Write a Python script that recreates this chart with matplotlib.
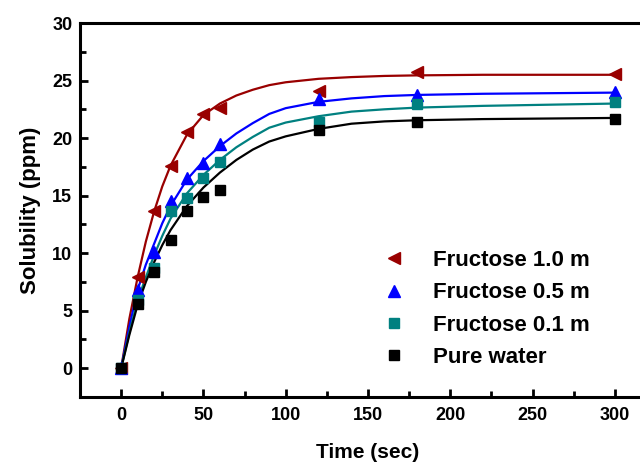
import matplotlib
matplotlib.use("Agg")
import matplotlib.pyplot as plt
from matplotlib.ticker import MultipleLocator

# measured points
time = [0, 10, 20, 30, 40, 50, 60, 120, 180, 300]
fru_10 = [0, 7.9, 13.7, 17.6, 20.5, 22.1, 22.6, 24.1, 25.7, 25.6]
fru_05 = [0, 6.8, 10.1, 14.5, 16.5, 17.8, 19.5, 23.4, 23.7, 24.0]
fru_01 = [0, 5.9, 8.7, 13.7, 14.8, 16.5, 17.9, 21.4, 23.0, 23.1]
water = [0, 5.6, 8.4, 11.1, 13.7, 14.9, 15.5, 20.7, 21.4, 21.7]

# fitted curves
fit_t = [0, 5, 10, 15, 20, 25, 30, 40, 50, 60, 70, 80, 90, 100, 120, 140, 160, 180, 220, 260, 300]
fit_10 = [0, 4.3, 7.9, 11.0, 13.6, 15.8, 17.6, 20.3, 22.0, 23.0, 23.7, 24.2, 24.6, 24.85, 25.15, 25.3, 25.4, 25.45, 25.5, 25.5, 25.5]
fit_05 = [0, 3.6, 6.8, 9.0, 10.8, 12.6, 14.1, 16.4, 18.0, 19.3, 20.4, 21.3, 22.1, 22.6, 23.15, 23.45, 23.65, 23.75, 23.85, 23.9, 23.95]
fit_01 = [0, 3.1, 5.9, 7.9, 9.8, 11.5, 13.0, 15.2, 16.8, 18.1, 19.2, 20.1, 20.9, 21.35, 21.9, 22.3, 22.5, 22.65, 22.8, 22.9, 23.0]
fit_w = [0, 2.9, 5.5, 7.5, 9.2, 10.7, 12.0, 14.1, 15.7, 17.0, 18.1, 19.0, 19.7, 20.15, 20.8, 21.25, 21.45, 21.55, 21.65, 21.7, 21.75]

labels = ["Fructose 1.0 m", "Fructose 0.5 m", "Fructose 0.1 m", "Pure water"]
colors = ["#990000", "#0000ff", "#008080", "#000000"]
markers = ["<", "^", "s", "s"]
msizes = [9, 9, 6.5, 6.5]

font = ["Liberation Sans", "DejaVu Sans"]

fig = plt.figure(figsize=(6.4, 4.66), dpi=100)
ax = fig.add_axes([80 / 640, 69 / 466, 576 / 640, 374 / 466])

for ys, fy, c, m, ms, lab in zip([fru_10, fru_05, fru_01, water],
                                 [fit_10, fit_05, fit_01, fit_w],
                                 colors, markers, msizes, labels):
    ax.plot(fit_t, fy, color=c, lw=1.6, zorder=2)
    ax.plot(time, ys, ls="none", marker=m, ms=ms, color=c, mec=c, zorder=3, label=lab)

ax.set_xlim(-25, 325)
ax.set_ylim(-2.5, 30)
ax.xaxis.set_major_locator(MultipleLocator(50))
ax.xaxis.set_minor_locator(MultipleLocator(25))
ax.yaxis.set_major_locator(MultipleLocator(5))
ax.yaxis.set_minor_locator(MultipleLocator(2.5))
ax.tick_params(which="both", direction="in", width=2, top=False, right=False)
ax.tick_params(which="major", length=6, labelsize=13)
ax.tick_params(axis="x", which="major", pad=7)
ax.tick_params(axis="y", which="major", pad=5.5)
ax.tick_params(which="minor", length=4)
for lab in ax.get_xticklabels() + ax.get_yticklabels():
    lab.set_family(font)
    lab.set_fontweight("bold")
for s in ax.spines.values():
    s.set_linewidth(2.2)

ax.set_xlabel("Time (sec)", family=font, fontweight="bold", fontsize=15, labelpad=14)
ax.set_ylabel("Solubility (ppm)", family=font, fontweight="bold", fontsize=16, labelpad=8)

leg = ax.legend(loc="upper left", bbox_to_anchor=(383 / 640, 1 - 250 / 466),
                bbox_transform=fig.transFigure, frameon=False, handlelength=1.0,
                handletextpad=1.25, labelspacing=0.51, borderpad=0, borderaxespad=0,
                prop={"family": font, "weight": "bold", "size": 16})

fig.savefig("out.png", dpi=100)
